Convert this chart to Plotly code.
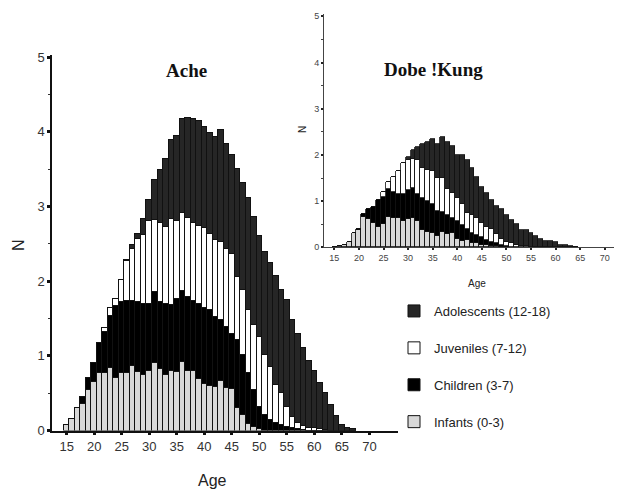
import plotly.graph_objects as go

# ---------------- Ache (main panel) ----------------
ache_age = list(range(15, 68))
ache_infants = [0.08, 0.16, 0.30, 0.36, 0.54, 0.65, 0.77, 0.77, 0.84, 0.71,
                0.77, 0.77, 0.87, 0.79, 0.74, 0.80, 0.90, 0.83, 0.75, 0.80,
                0.78, 0.92, 0.80, 0.80, 0.69, 0.63, 0.60, 0.59, 0.67, 0.57,
                0.56, 0.31, 0.21, 0.09, 0.05, 0.02, 0, 0, 0, 0,
                0, 0, 0, 0, 0, 0, 0, 0, 0, 0, 0, 0, 0]
ache_children = [0, 0, 0, 0.09, 0.16, 0.26, 0.40, 0.55, 0.69, 0.96,
                 0.95, 0.96, 0.86, 0.93, 0.95, 0.90, 0.96, 0.89, 0.95, 0.88,
                 0.99, 0.95, 0.99, 0.93, 1.00, 1.01, 1.01, 0.93, 0.81, 0.82,
                 0.74, 0.90, 0.80, 0.68, 0.49, 0.30, 0.21, 0.14, 0.10, 0.07,
                 0.05, 0.03, 0.02, 0.01, 0, 0, 0, 0, 0, 0, 0, 0, 0]
ache_juveniles = [0, 0, 0, 0, 0, 0, 0, 0.06, 0.11, 0.09,
                  0.30, 0.54, 0.70, 0.85, 0.93, 1.11, 0.96, 1.06, 1.03, 1.16,
                  1.04, 1.05, 1.06, 1.05, 1.05, 1.07, 1.03, 1.03, 1.04, 1.04,
                  1.07, 0.85, 0.87, 0.85, 0.87, 0.94, 0.81, 0.71, 0.51, 0.43,
                  0.27, 0.16, 0.08, 0.05, 0.04, 0.03, 0.02, 0.01, 0, 0, 0, 0, 0]
ache_adolescents = [0, 0, 0, 0, 0, 0, 0, 0, 0, 0,
                    0, 0.02, 0.06, 0.06, 0.21, 0.28, 0.54, 0.71, 0.91, 1.05,
                    1.14, 1.25, 1.34, 1.39, 1.40, 1.35, 1.35, 1.38, 1.50, 1.41,
                    1.32, 1.44, 1.44, 1.50, 1.45, 1.35, 1.37, 1.39, 1.46, 1.38,
                    1.43, 1.29, 1.20, 1.05, 0.89, 0.77, 0.62, 0.49, 0.35, 0.20,
                    0.08, 0.04, 0.02]

# ---------------- Dobe !Kung (inset) ----------------
kung_age = list(range(15, 65))
kung_infants = [0.01, 0.03, 0.06, 0.12, 0.30, 0.37, 0.65, 0.61, 0.53, 0.45,
                0.51, 0.65, 0.63, 0.63, 0.58, 0.61, 0.63, 0.56, 0.38, 0.33,
                0.32, 0.24, 0.33, 0.28, 0.31, 0.18, 0.13, 0.16, 0.09, 0.10,
                0.05, 0.04, 0.03, 0.02, 0.01, 0, 0, 0, 0, 0,
                0, 0, 0, 0, 0, 0, 0, 0, 0, 0]
kung_children = [0, 0, 0, 0, 0, 0.03, 0.07, 0.21, 0.35, 0.57,
                 0.57, 0.61, 0.57, 0.52, 0.57, 0.64, 0.65, 0.59, 0.69, 0.67,
                 0.62, 0.54, 0.44, 0.41, 0.32, 0.38, 0.35, 0.23, 0.23, 0.17,
                 0.18, 0.12, 0.09, 0.07, 0.04, 0.03, 0.01, 0, 0, 0,
                 0, 0, 0, 0, 0, 0, 0, 0, 0, 0]
kung_juveniles = [0, 0, 0, 0, 0, 0, 0, 0, 0, 0,
                  0.11, 0.16, 0.33, 0.51, 0.67, 0.65, 0.63, 0.74, 0.64, 0.67,
                  0.72, 0.71, 0.72, 0.57, 0.54, 0.50, 0.46, 0.35, 0.38, 0.36,
                  0.29, 0.29, 0.27, 0.20, 0.14, 0.09, 0.08, 0.05, 0.03, 0.02,
                  0.01, 0, 0, 0, 0, 0, 0, 0, 0, 0]
kung_adolescents = [0, 0, 0, 0, 0, 0, 0, 0, 0, 0,
                    0, 0, 0, 0, 0, 0.06, 0.20, 0.29, 0.53, 0.62,
                    0.68, 0.75, 0.89, 1.03, 1.02, 0.94, 1.06, 1.14, 1.01, 0.90,
                    0.79, 0.72, 0.63, 0.60, 0.63, 0.58, 0.50, 0.46, 0.35, 0.36,
                    0.29, 0.25, 0.19, 0.14, 0.14, 0.11, 0.05, 0.05, 0.03, 0.01]

categories = ["Infants (0-3)", "Children (3-7)", "Juveniles (7-12)", "Adolescents (12-18)"]
colors = ["#d8d8d8", "#000000", "#ffffff", "#262626"]
legend_ranks = [4, 3, 2, 1]

y_ticks = [0, 1, 2, 3, 4, 5]
x_ticks = [15, 20, 25, 30, 35, 40, 45, 50, 55, 60, 65, 70]

fig = go.Figure()

ache_series = [ache_infants, ache_children, ache_juveniles, ache_adolescents]
kung_series = [kung_infants, kung_children, kung_juveniles, kung_adolescents]

for name, col, rank, vals in zip(categories, colors, legend_ranks, ache_series):
    fig.add_trace(go.Bar(x=ache_age, y=vals, name=name, legendgroup=name, legendrank=rank,
                         marker=dict(color=col, line=dict(color="#111111", width=1)),
                         width=1.0, xaxis="x", yaxis="y"))
for name, col, rank, vals in zip(categories, colors, legend_ranks, kung_series):
    fig.add_trace(go.Bar(x=kung_age, y=vals, name=name, legendgroup=name, legendrank=rank,
                         showlegend=False,
                         marker=dict(color=col, line=dict(color="#111111", width=0.8)),
                         width=1.0, xaxis="x2", yaxis="y2"))

# the page body adds an 8px offset; the figure is sized to fill the rest of the window
OFF = 8
W, H = 622 - OFF, 495 - OFF
def px(x):
    return (x - OFF) / W
def py(y):
    return 1 - (y - OFF) / H

tick_font = dict(family="Liberation Sans, Arial, sans-serif", size=13, color="#333333")
small_font = dict(family="Liberation Sans, Arial, sans-serif", size=9, color="#444444")

fig.update_layout(
    width=W, height=H,
    margin=dict(l=0, r=0, t=0, b=0),
    paper_bgcolor="white", plot_bgcolor="rgba(0,0,0,0)",
    barmode="stack", bargap=0,
    showlegend=True,
    legend=dict(x=px(394), y=py(296), xanchor="left", yanchor="top",
                traceorder="grouped", tracegroupgap=17,
                font=dict(family="Liberation Sans, Arial, sans-serif", size=13, color="#222222"),
                bgcolor="rgba(0,0,0,0)"),
    xaxis=dict(domain=[px(52), px(398)], range=[12.33, 75.2], tickvals=x_ticks,
               ticks="outside", ticklen=3, tickwidth=3, tickcolor="#111",
               showline=True, linecolor="#111", linewidth=1.5, showgrid=False,
               zeroline=False, tickfont=tick_font, anchor="y", automargin=False),
    yaxis=dict(domain=[py(430.5), py(54.8)], range=[0, 5.03], tickvals=y_ticks,
               ticks="outside", ticklen=3, tickwidth=3, tickcolor="#111",
               minor=dict(dtick=0.5, ticks="outside", ticklen=2, tickwidth=1, tickcolor="#333"),
               showline=True, linecolor="#111", linewidth=1.5, showgrid=False,
               zeroline=False, tickfont=tick_font, anchor="x", automargin=False),
    xaxis2=dict(domain=[px(324), 1.0], range=[12.9, 73.5], tickvals=x_ticks,
                ticks="outside", ticklen=2, tickwidth=2, tickcolor="#222",
                showline=True, linecolor="#444", linewidth=1, showgrid=False,
                zeroline=False, tickfont=small_font, anchor="y2", automargin=False),
    yaxis2=dict(domain=[py(247.3), py(14)], range=[0, 5.05], tickvals=y_ticks,
                ticks="outside", ticklen=2, tickwidth=2, tickcolor="#222",
                minor=dict(dtick=0.5, ticks="outside", ticklen=2, tickwidth=1, tickcolor="#444"),
                showline=True, linecolor="#444", linewidth=1, showgrid=False,
                zeroline=False, tickfont=small_font, anchor="x2", automargin=False),
)

def label(text, x, y, font, angle=0):
    fig.add_annotation(text=text, x=px(x), y=py(y), xref="paper", yref="paper",
                       showarrow=False, font=font, textangle=angle,
                       xanchor="center", yanchor="middle")

title_font = dict(family="Liberation Serif, Times New Roman, serif", size=19, color="#111111")
label("<b>Ache</b>", 186, 71, title_font)
label("<b>Dobe !Kung</b>", 433, 69, title_font)

lab_font = dict(family="Liberation Sans, Arial, sans-serif", size=16, color="#222222")
label("N", 18, 245, lab_font, -90)
label("Age", 212, 480, lab_font)
sm_lab = dict(family="Liberation Sans, Arial, sans-serif", size=10, color="#222222")
label("N", 302, 130, sm_lab, -90)
label("Age", 477, 283, sm_lab)

fig.write_html("out.html")
